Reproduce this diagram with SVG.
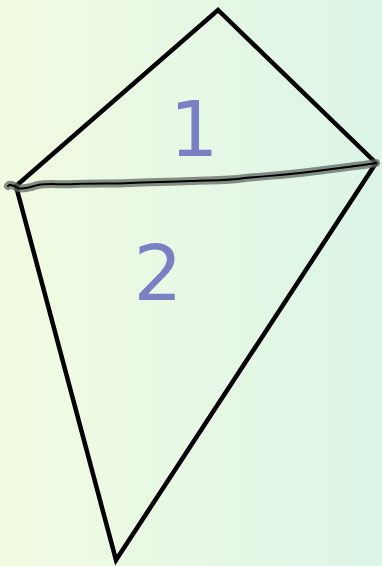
<svg xmlns="http://www.w3.org/2000/svg" width="382" height="566" viewBox="0 0 382 566">
<defs>
<linearGradient id="bg" x1="0" y1="0" x2="1" y2="0">
<stop offset="0" stop-color="#f2fbe1"/>
<stop offset="1" stop-color="#dcf5e7"/>
</linearGradient>
<style>
.edge{fill:none;stroke:#000;stroke-width:4.5;stroke-linejoin:miter;stroke-linecap:round}
.halo{fill:none;stroke:#606860;stroke-opacity:0.75;stroke-width:8;stroke-linecap:round;stroke-linejoin:round}
.cut{fill:none;stroke:#000;stroke-width:2;stroke-linecap:round;stroke-linejoin:round}
.lbl{font-family:"DejaVu Sans",sans-serif;font-size:77px;fill:#7b7fc4;text-anchor:middle}
</style>
</defs>
<rect width="382" height="566" fill="url(#bg)"/>
<g id="connectors">
<path class="edge" d="M16,186 L218,10 L376,163 L116,560 Z"/>
</g>
<g id="cut">
<path class="halo" d="M8,186 C10,183 14,186 18,188 C24,190 30,187 38,185 C50,183 60,185 75,184 C95,183 110,184 130,183 C150,182 170,182 190,181 C210,180 225,181 245,178 C265,176 285,175 300,173 C320,171 340,168 355,166 C365,165 370,164 376,163"/>
<path class="cut" d="M8,186 C10,183 14,186 18,188 C24,190 30,187 38,185 C50,183 60,185 75,184 C95,183 110,184 130,183 C150,182 170,182 190,181 C210,180 225,181 245,178 C265,176 285,175 300,173 C320,171 340,168 355,166 C365,165 370,164 376,163"/>
</g>
<g id="region1"><text class="lbl" x="194" y="156">1</text></g>
<g id="region2"><text class="lbl" x="158" y="300">2</text></g>
</svg>
